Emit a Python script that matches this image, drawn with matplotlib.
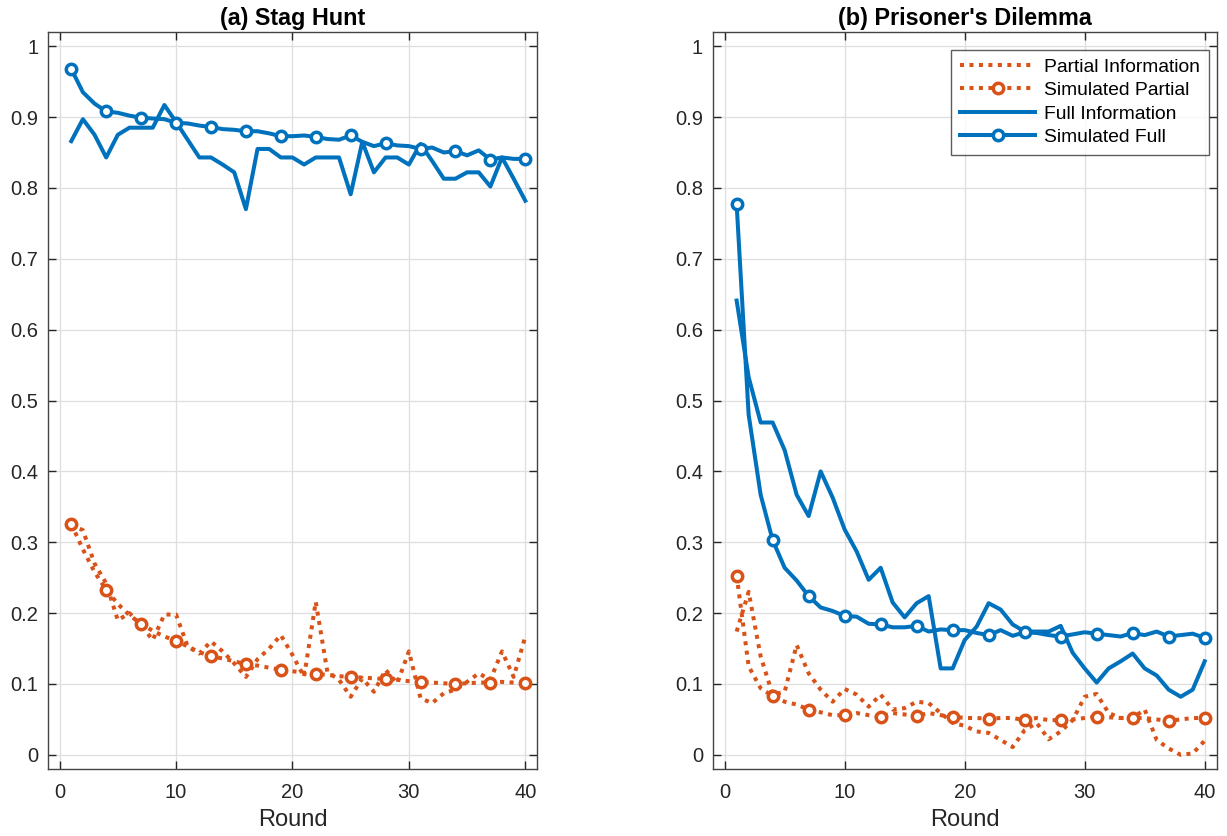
import matplotlib
matplotlib.use("Agg")
import matplotlib.pyplot as plt

plt.rcParams["font.family"] = ["Liberation Sans", "DejaVu Sans"]

rounds = list(range(1, 41))

# (a) Stag Hunt
sh_partial = [0.325, 0.317, 0.270, 0.242, 0.190, 0.200, 0.183, 0.162, 0.198, 0.198,
              0.153, 0.143, 0.160, 0.146, 0.129, 0.110, 0.135, 0.150, 0.169, 0.141,
              0.110, 0.216, 0.117, 0.106, 0.082, 0.108, 0.089, 0.120, 0.101, 0.146,
              0.080, 0.073, 0.087, 0.092, 0.103, 0.115, 0.106, 0.146, 0.110, 0.167]
sh_sim_partial = [0.326, 0.290, 0.258, 0.233, 0.213, 0.197, 0.185, 0.175, 0.167, 0.161,
                  0.153, 0.145, 0.139, 0.136, 0.132, 0.128, 0.126, 0.123, 0.120, 0.118,
                  0.116, 0.114, 0.113, 0.111, 0.110, 0.109, 0.108, 0.107, 0.106, 0.104,
                  0.103, 0.102, 0.101, 0.100, 0.101, 0.102, 0.102, 0.103, 0.102, 0.102]
sh_full = [0.866, 0.897, 0.875, 0.843, 0.875, 0.885, 0.885, 0.885, 0.917, 0.893,
           0.868, 0.843, 0.843, 0.833, 0.822, 0.770, 0.855, 0.855, 0.843, 0.843,
           0.833, 0.843, 0.843, 0.843, 0.791, 0.865, 0.822, 0.843, 0.843, 0.833,
           0.862, 0.838, 0.813, 0.813, 0.822, 0.822, 0.802, 0.843, 0.813, 0.782]
sh_sim_full = [0.968, 0.935, 0.919, 0.908, 0.906, 0.902, 0.899, 0.898, 0.897, 0.892,
               0.891, 0.888, 0.886, 0.883, 0.882, 0.880, 0.880, 0.877, 0.873, 0.873,
               0.874, 0.872, 0.869, 0.868, 0.874, 0.865, 0.859, 0.863, 0.860, 0.859,
               0.855, 0.857, 0.850, 0.852, 0.846, 0.853, 0.840, 0.843, 0.841, 0.841]

# (b) Prisoner's Dilemma
pd_partial = [0.174, 0.230, 0.139, 0.085, 0.089, 0.155, 0.115, 0.092, 0.075, 0.093,
              0.085, 0.068, 0.085, 0.064, 0.066, 0.075, 0.073, 0.059, 0.045, 0.041,
              0.033, 0.031, 0.021, 0.011, 0.035, 0.045, 0.022, 0.033, 0.049, 0.082,
              0.086, 0.059, 0.052, 0.052, 0.064, 0.021, 0.009, 0.000, 0.002, 0.020]
pd_sim_partial = [0.253, 0.125, 0.094, 0.083, 0.075, 0.071, 0.064, 0.060, 0.056, 0.056,
                  0.059, 0.056, 0.054, 0.059, 0.057, 0.055, 0.059, 0.056, 0.054, 0.052,
                  0.052, 0.051, 0.052, 0.052, 0.049, 0.052, 0.049, 0.049, 0.050, 0.052,
                  0.054, 0.053, 0.052, 0.052, 0.052, 0.050, 0.048, 0.050, 0.052, 0.052]
pd_full = [0.641, 0.533, 0.469, 0.469, 0.430, 0.367, 0.337, 0.400, 0.363, 0.318,
           0.287, 0.247, 0.264, 0.215, 0.194, 0.214, 0.224, 0.122, 0.122, 0.162,
           0.181, 0.214, 0.205, 0.184, 0.174, 0.174, 0.174, 0.182, 0.144, 0.122,
           0.102, 0.122, 0.132, 0.143, 0.122, 0.112, 0.092, 0.082, 0.092, 0.132]
pd_sim_full = [0.777, 0.480, 0.367, 0.303, 0.264, 0.246, 0.224, 0.208, 0.203, 0.196,
               0.195, 0.185, 0.184, 0.180, 0.180, 0.182, 0.174, 0.177, 0.176, 0.176,
               0.172, 0.169, 0.176, 0.168, 0.173, 0.172, 0.169, 0.167, 0.170, 0.173,
               0.171, 0.169, 0.167, 0.172, 0.169, 0.174, 0.167, 0.169, 0.171, 0.165]

yticks = [0, 0.1, 0.2, 0.3, 0.4, 0.5, 0.6, 0.7, 0.8, 0.9, 1]
ytick_labels = ["0", "0.1", "0.2", "0.3", "0.4", "0.5", "0.6", "0.7", "0.8", "0.9", "1"]
xticks = [0, 10, 20, 30, 40]

BLUE = "#0072BD"
ORANGE = "#D95319"
DARK = "#262626"
LW = 2.9


def draw(ax, partial, sim_partial, full, sim_full, title):
    dot = (0, (1.0, 1.35))
    ax.plot(rounds, partial, color=ORANGE, lw=LW, linestyle=dot,
            label="Partial Information")
    ax.plot(rounds, sim_partial, color=ORANGE, lw=LW, linestyle=dot,
            marker="o", markevery=3, ms=7.5, mfc="white", mew=2.5,
            label="Simulated Partial")
    ax.plot(rounds, full, color=BLUE, lw=LW, label="Full Information")
    ax.plot(rounds, sim_full, color=BLUE, lw=LW, marker="o", markevery=3,
            ms=7.5, mfc="white", mew=2.5, label="Simulated Full")
    ax.set_xlim(-1, 41)
    ax.set_ylim(-0.02, 1.02)
    ax.set_xticks(xticks)
    ax.set_yticks(yticks)
    ax.set_yticklabels(ytick_labels)
    ax.grid(True, color="#dedede", lw=0.9)
    ax.set_axisbelow(True)
    ax.tick_params(direction="in", length=5.5, width=1.0, colors=DARK,
                   labelsize=14.5, top=True, right=True)
    ax.tick_params(axis="y", pad=7)
    ax.tick_params(axis="x", pad=10)
    for s in ax.spines.values():
        s.set_color("#444444")
        s.set_linewidth(1.0)
    ax.set_xlabel("Round", fontsize=17, color=DARK, labelpad=5)
    ax.set_title(title, fontsize=16.8, fontweight="bold", color="black", pad=5)


fig = plt.figure(figsize=(12.27, 8.36), dpi=100)
ax1 = fig.add_axes([0.0391, 0.0801, 0.3985, 0.8816])
ax2 = fig.add_axes([0.5808, 0.0801, 0.4108, 0.8816])

draw(ax1, sh_partial, sh_sim_partial, sh_full, sh_sim_full, "(a) Stag Hunt")
draw(ax2, pd_partial, pd_sim_partial, pd_full, pd_sim_full, "(b) Prisoner's Dilemma")

leg = ax2.legend(loc="upper right", fontsize=13.9, frameon=True, fancybox=False,
                 edgecolor="#333333", handlelength=3.9, borderpad=0.45,
                 labelspacing=0.3, handletextpad=0.45, borderaxespad=0,
                 bbox_to_anchor=(0.984, 0.976))
leg.get_frame().set_linewidth(1.0)

fig.savefig("out.png", dpi=100)
